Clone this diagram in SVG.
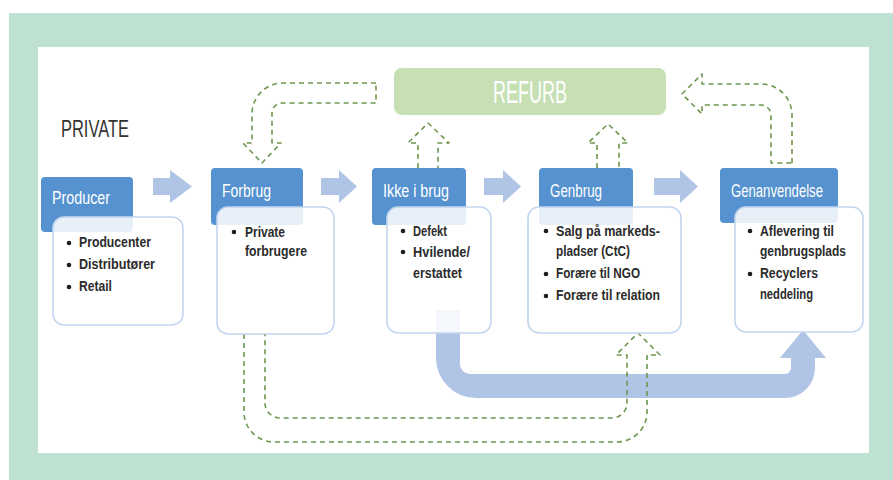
<svg xmlns="http://www.w3.org/2000/svg" width="893" height="480" viewBox="0 0 893 480">
<style>
.hdr{fill:#5592cf}
.hdrt{fill:#ffffff;font-family:"Liberation Sans",Arial,sans-serif;font-size:18px}
.box{fill:#ffffff;fill-opacity:0.86;stroke:#c2d6ee;stroke-width:1.6}
.bt{fill:#2b2b2b;font-family:"Liberation Sans",Arial,sans-serif;font-size:15px;font-weight:bold}
.dot{fill:#1e1e1e}
.blk{fill:#b0c5e6}
.dash{fill:none;stroke:#6f9650;stroke-width:1.6;stroke-dasharray:5 4;stroke-linejoin:round}
</style>
<rect x="0" y="0" width="893" height="480" fill="#ffffff"/>
<rect x="9" y="13" width="884" height="467" fill="#bfe1d2"/>
<rect x="38" y="47" width="831" height="406" fill="#ffffff"/>
<text x="61" y="137" fill="#333333" font-family="Liberation Sans, Arial, sans-serif" font-size="23" textLength="68" lengthAdjust="spacingAndGlyphs">PRIVATE</text>

<g id="connectors">
  <path class="blk" d="M436,310 V358 A40,40 0 0 0 476,398 H785 A30,30 0 0 0 815,368 V358 H826 L803,330 L780,358 H791 V368 A6,6 0 0 1 785,374 H470 A10,10 0 0 1 460,364 V310 Z"/>
  <path class="dash" d="M244,334 V412 A30,30 0 0 0 274,442 H617 A30,30 0 0 0 647,412 V355 H660 L638,333 L616,355 H627 V403 A15,15 0 0 1 612,418 H280 A15,15 0 0 1 265,403 V334"/>
  <path class="blk" d="M153,178 H170 V170 L192,186.5 L170,203 V195 H153 Z"/>
  <path class="blk" d="M321,178 H339 V170 L357,186.5 L339,203 V195 H321 Z"/>
  <path class="blk" d="M484,178 H503 V170 L521,186.5 L503,203 V195 H484 Z"/>
  <path class="blk" d="M654,178 H680 V170 L698,186.5 L680,203 V195 H654 Z"/>
  <path class="dash" d="M376,83 H283 A31,31 0 0 0 252,114 V143 H243 L262,163 L281,143 H272 V113 A10,10 0 0 1 282,103 H376 Z"/>
  <path class="dash" d="M418,168 V143 H408 L428,123 L449,143 H438 V168"/>
  <path class="dash" d="M597,168 V143 H588 L608,124 L628,143 H619 V168"/>
  <path class="dash" d="M792,163 V115 A31,31 0 0 0 761,84 H702 V74 L682,94 L702,114 V105 H761 A10,10 0 0 1 771,115 V163 Z"/>
</g>

<g id="refurb">
  <rect x="394" y="68" width="272" height="47" rx="8" fill="#c6e0b4"/>
  <text x="493" y="103" fill="#ffffff" font-family="Liberation Sans, Arial, sans-serif" font-size="31" textLength="74" lengthAdjust="spacingAndGlyphs">REFURB</text>
</g>

<g id="producer">
  <rect class="hdr" x="41" y="177" width="92" height="55" rx="4"/>
  <text class="hdrt" x="52" y="204" textLength="58" lengthAdjust="spacingAndGlyphs">Producer</text>
  <rect class="box" x="53" y="217" width="130" height="108" rx="11"/>
  <circle class="dot" cx="69" cy="243" r="2.3"/>
  <text class="bt" x="79" y="247" textLength="72" lengthAdjust="spacingAndGlyphs">Producenter</text>
  <circle class="dot" cx="69" cy="265" r="2.3"/>
  <text class="bt" x="79" y="269" textLength="76" lengthAdjust="spacingAndGlyphs">Distributører</text>
  <circle class="dot" cx="69" cy="287" r="2.3"/>
  <text class="bt" x="79" y="291" textLength="33" lengthAdjust="spacingAndGlyphs">Retail</text>
</g>

<g id="forbrug">
  <rect class="hdr" x="211" y="168" width="92" height="57" rx="4"/>
  <text class="hdrt" x="222" y="197" textLength="49" lengthAdjust="spacingAndGlyphs">Forbrug</text>
  <rect class="box" x="217" y="207" width="117" height="127" rx="11"/>
  <circle class="dot" cx="234" cy="232" r="2.3"/>
  <text class="bt" x="245" y="237" textLength="40" lengthAdjust="spacingAndGlyphs">Private</text>
  <text class="bt" x="245" y="256" textLength="62" lengthAdjust="spacingAndGlyphs">forbrugere</text>
</g>

<g id="ikke-i-brug">
  <rect class="hdr" x="372" y="168" width="94" height="57" rx="4"/>
  <text class="hdrt" x="383" y="197" textLength="66" lengthAdjust="spacingAndGlyphs">Ikke i brug</text>
  <rect class="box" x="387" y="207" width="104" height="126" rx="11"/>
  <circle class="dot" cx="403" cy="231" r="2.3"/>
  <text class="bt" x="413" y="236" textLength="34" lengthAdjust="spacingAndGlyphs">Defekt</text>
  <circle class="dot" cx="403" cy="252" r="2.3"/>
  <text class="bt" x="413" y="257" textLength="57" lengthAdjust="spacingAndGlyphs">Hvilende/</text>
  <text class="bt" x="413" y="278" textLength="49" lengthAdjust="spacingAndGlyphs">erstattet</text>
</g>

<g id="genbrug">
  <rect class="hdr" x="539" y="168" width="94" height="57" rx="4"/>
  <text class="hdrt" x="550" y="197" textLength="52" lengthAdjust="spacingAndGlyphs">Genbrug</text>
  <rect class="box" x="528" y="207" width="153" height="126" rx="11"/>
  <circle class="dot" cx="546" cy="231" r="2.3"/>
  <text class="bt" x="556" y="236" textLength="104" lengthAdjust="spacingAndGlyphs">Salg på markeds-</text>
  <text class="bt" x="556" y="256" textLength="74" lengthAdjust="spacingAndGlyphs">pladser (CtC)</text>
  <circle class="dot" cx="546" cy="274" r="2.3"/>
  <text class="bt" x="556" y="278" textLength="84" lengthAdjust="spacingAndGlyphs">Forære til NGO</text>
  <circle class="dot" cx="546" cy="296" r="2.3"/>
  <text class="bt" x="556" y="300" textLength="104" lengthAdjust="spacingAndGlyphs">Forære til relation</text>
</g>

<g id="genanvendelse">
  <rect class="hdr" x="720" y="168" width="118" height="55" rx="4"/>
  <text class="hdrt" x="731" y="197" textLength="92" lengthAdjust="spacingAndGlyphs">Genanvendelse</text>
  <rect class="box" x="735" y="207" width="128" height="125" rx="11"/>
  <circle class="dot" cx="750" cy="231" r="2.3"/>
  <text class="bt" x="760" y="236" textLength="74" lengthAdjust="spacingAndGlyphs">Aflevering til</text>
  <text class="bt" x="760" y="256" textLength="86" lengthAdjust="spacingAndGlyphs">genbrugsplads</text>
  <circle class="dot" cx="750" cy="274" r="2.3"/>
  <text class="bt" x="760" y="278" textLength="58" lengthAdjust="spacingAndGlyphs">Recyclers</text>
  <text class="bt" x="760" y="299" textLength="53" lengthAdjust="spacingAndGlyphs">neddeling</text>
</g>
</svg>
